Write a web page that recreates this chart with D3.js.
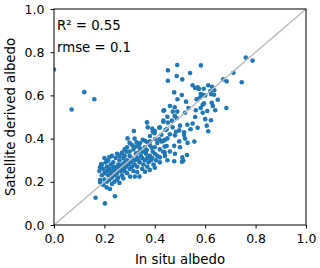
<!DOCTYPE html>
<html>
<head>
<meta charset="utf-8">
<script src="https://cdn.jsdelivr.net/npm/d3@7"></script>
<style>
  body { margin: 0; background: #fff; }
  text { font-family: "DejaVu Sans", sans-serif; fill: #000; }
</style>
</head>
<body>
<svg id="chart"></svg>
<script>
// tick values for both axes
const xTicks = [0, 0.2, 0.4, 0.6, 0.8, 1.0];
const yTicks = [0, 0.2, 0.4, 0.6, 0.8, 1.0];

// fit statistics shown top-left
const statLines = ['R\u00b2 = 0.55', 'rmse = 0.1'];

// [in situ albedo, satellite derived albedo]
const albedoPairs = [
  // outliers on the left
  [0.00, 0.72], [0.07, 0.535], [0.12, 0.615], [0.16, 0.582],
  [0.165, 0.126], [0.202, 0.10], [0.242, 0.133],
  // upper tail
  [0.761, 0.775], [0.788, 0.761], [0.712, 0.705], [0.671, 0.674], [0.685, 0.665], [0.745, 0.661],
  [0.489, 0.741], [0.583, 0.739], [0.452, 0.716], [0.54, 0.704], [0.487, 0.69], [0.509, 0.674], [0.452, 0.668],
  [0.55, 0.647], [0.56, 0.634], [0.57, 0.637], [0.575, 0.63], [0.477, 0.614], [0.507, 0.602],
  [0.612, 0.647], [0.627, 0.64], [0.594, 0.631], [0.636, 0.624], [0.582, 0.606], [0.59, 0.603], [0.635, 0.603], [0.623, 0.606],
  [0.49, 0.582], [0.524, 0.571], [0.566, 0.582], [0.595, 0.563], [0.59, 0.557], [0.626, 0.566], [0.63, 0.551],
  [0.46, 0.551], [0.479, 0.545], [0.489, 0.525], [0.471, 0.525], [0.437, 0.531],
  [0.534, 0.542], [0.563, 0.531], [0.582, 0.542], [0.59, 0.52], [0.608, 0.528], [0.64, 0.531], [0.684, 0.542],
  [0.479, 0.505], [0.487, 0.494], [0.468, 0.483], [0.434, 0.483], [0.452, 0.474],
  [0.623, 0.485], [0.606, 0.46], [0.529, 0.464], [0.542, 0.443], [0.497, 0.438], [0.484, 0.432], [0.516, 0.429], [0.612, 0.434],
  [0.42, 0.452], [0.447, 0.444], [0.471, 0.452],
  [0.426, 0.418], [0.44, 0.394], [0.45, 0.401], [0.427, 0.386], [0.48, 0.415], [0.516, 0.417], [0.497, 0.387],
  [0.477, 0.367], [0.447, 0.366], [0.557, 0.386], [0.439, 0.337], [0.42, 0.313], [0.42, 0.29], [0.477, 0.295],
  [0.509, 0.313], [0.513, 0.298], [0.508, 0.293], [0.528, 0.324],
  [0.55, 0.47], [0.57, 0.45], [0.56, 0.50], [0.60, 0.49], [0.52, 0.52], [0.58, 0.59], [0.60, 0.60], [0.65, 0.58], [0.62, 0.62],
  // middle
  [0.317, 0.435], [0.369, 0.475], [0.372, 0.452], [0.39, 0.446], [0.40, 0.435], [0.418, 0.45], [0.434, 0.478],
  [0.442, 0.44], [0.434, 0.529], [0.45, 0.501], [0.381, 0.412], [0.399, 0.425], [0.392, 0.432],
  [0.418, 0.397], [0.434, 0.39], [0.439, 0.363],
  [0.361, 0.39], [0.37, 0.383], [0.341, 0.378], [0.335, 0.367], [0.324, 0.363], [0.315, 0.35], [0.341, 0.355],
  [0.352, 0.339], [0.328, 0.332], [0.368, 0.347], [0.388, 0.358], [0.392, 0.339], [0.269, 0.332], [0.288, 0.339], [0.434, 0.339],
  [0.292, 0.401], [0.328, 0.383], [0.352, 0.394], [0.381, 0.387], [0.401, 0.398],
  [0.28, 0.35], [0.30, 0.34], [0.31, 0.37], [0.29, 0.36], [0.34, 0.34], [0.36, 0.36], [0.38, 0.37], [0.40, 0.36],
  [0.41, 0.38], [0.42, 0.35], [0.30, 0.38], [0.32, 0.40], [0.26, 0.32], [0.28, 0.32], [0.33, 0.31], [0.36, 0.34],
  [0.44, 0.32], [0.46, 0.34], [0.45, 0.30], [0.48, 0.33], [0.50, 0.36], [0.53, 0.38], [0.52, 0.40], [0.46, 0.42], [0.50, 0.46],
  // dense cluster
  [0.18, 0.25], [0.185, 0.27], [0.19, 0.23], [0.19, 0.28], [0.195, 0.26], [0.20, 0.24], [0.20, 0.21], [0.205, 0.29], [0.21, 0.25], [0.21, 0.27],
  [0.215, 0.23], [0.215, 0.30], [0.22, 0.26], [0.22, 0.21], [0.225, 0.28], [0.225, 0.24], [0.23, 0.25], [0.23, 0.22], [0.235, 0.27], [0.235, 0.29],
  [0.24, 0.26], [0.24, 0.23], [0.245, 0.25], [0.245, 0.31], [0.25, 0.27], [0.25, 0.24], [0.255, 0.28], [0.255, 0.22], [0.26, 0.26], [0.26, 0.30],
  [0.265, 0.25], [0.265, 0.27], [0.27, 0.28], [0.27, 0.23], [0.275, 0.26], [0.275, 0.31], [0.28, 0.29], [0.28, 0.25], [0.285, 0.27], [0.29, 0.30],
  [0.29, 0.24], [0.295, 0.28], [0.30, 0.26], [0.30, 0.32], [0.305, 0.29], [0.31, 0.27], [0.31, 0.31], [0.315, 0.25], [0.32, 0.30], [0.32, 0.28],
  [0.325, 0.33], [0.33, 0.27], [0.335, 0.30], [0.34, 0.29], [0.345, 0.32], [0.35, 0.31], [0.355, 0.28], [0.36, 0.30], [0.365, 0.33], [0.37, 0.31],
  [0.375, 0.29], [0.38, 0.32], [0.385, 0.30], [0.39, 0.31], [0.395, 0.28], [0.40, 0.33], [0.405, 0.30], [0.41, 0.32],
  [0.275, 0.216], [0.302, 0.224], [0.321, 0.224], [0.339, 0.224], [0.361, 0.247], [0.35, 0.26], [0.33, 0.245], [0.37, 0.27], [0.38, 0.255], [0.40, 0.265],
  [0.183, 0.208], [0.196, 0.185], [0.209, 0.174], [0.222, 0.167], [0.183, 0.198], [0.23, 0.19], [0.21, 0.20], [0.24, 0.20], [0.25, 0.21], [0.26, 0.195],
  [0.187, 0.282], [0.213, 0.298], [0.183, 0.267], [0.20, 0.31], [0.23, 0.32], [0.25, 0.33], [0.22, 0.315], [0.27, 0.335]
];

class AlbedoScatter {

  constructor(_config, _data) {
    this.config = {
      parentElement: _config.parentElement,
      containerWidth: _config.containerWidth || 320,
      containerHeight: _config.containerHeight || 268,
      margin: { top: 9, bottom: 43, right: 14, left: 54 }
    }
    this.data = _data;
    this.initVis();
  }

  initVis() {
    let vis = this;

    vis.width = vis.config.containerWidth - vis.config.margin.left - vis.config.margin.right;
    vis.height = vis.config.containerHeight - vis.config.margin.top - vis.config.margin.bottom;

    vis.svg = d3.select(vis.config.parentElement)
      .attr('width', vis.config.containerWidth)
      .attr('height', vis.config.containerHeight);

    vis.chart = vis.svg.append('g')
      .attr('transform', `translate(${vis.config.margin.left},${vis.config.margin.top})`);

    // scales
    vis.xScale = d3.scaleLinear().domain([0, 1]).range([0, vis.width]);
    vis.yScale = d3.scaleLinear().domain([0, 1]).range([vis.height, 0]);

    // clip so markers on the edge get cut like in matplotlib
    vis.svg.append('defs').append('clipPath')
      .attr('id', 'plot-clip')
      .append('rect')
        .attr('width', vis.width)
        .attr('height', vis.height);

    // points
    vis.chart.append('g')
      .attr('clip-path', 'url(#plot-clip)')
      .selectAll('circle')
      .data(vis.data)
      .enter()
      .append('circle')
        .attr('cx', d => vis.xScale(d[0]))
        .attr('cy', d => vis.yScale(d[1]))
        .attr('r', 2.3)
        .attr('fill', '#1f77b4');

    // 1:1 line on top of the points
    vis.chart.append('line')
      .attr('x1', vis.xScale(0))
      .attr('y1', vis.yScale(0))
      .attr('x2', vis.xScale(1))
      .attr('y2', vis.yScale(1))
      .attr('stroke', '#bdbdbd')
      .attr('stroke-width', 1.6);

    // axes
    vis.xAxis = d3.axisBottom(vis.xScale)
      .tickValues(xTicks)
      .tickFormat(d3.format('.1f'))
      .tickSize(3.5)
      .tickPadding(6)
      .tickSizeOuter(0);
    vis.yAxis = d3.axisLeft(vis.yScale)
      .tickValues(yTicks)
      .tickFormat(d3.format('.1f'))
      .tickSize(3.5)
      .tickPadding(6)
      .tickSizeOuter(0);

    vis.xAxisGroup = vis.chart.append('g')
      .attr('transform', `translate(0, ${vis.height})`)
      .call(vis.xAxis);
    vis.yAxisGroup = vis.chart.append('g')
      .call(vis.yAxis);

    [vis.xAxisGroup, vis.yAxisGroup].forEach(g => {
      g.select('.domain').remove();
      g.selectAll('line').attr('stroke', '#000').attr('stroke-width', 1);
      g.selectAll('text')
        .attr('font-family', '"DejaVu Sans", sans-serif')
        .attr('font-size', 12.5)
        .attr('fill', '#000');
    });

    // frame
    vis.chart.append('rect')
      .attr('width', vis.width)
      .attr('height', vis.height)
      .attr('fill', 'none')
      .attr('stroke', '#000')
      .attr('stroke-width', 1);

    // stats
    vis.chart.selectAll('.stat')
      .data(statLines)
      .enter()
      .append('text')
        .attr('class', 'stat')
        .attr('x', 3)
        .attr('y', (d, i) => 21 + i * 22)
        .attr('font-size', 13.3)
        .text(d => d);

    // axis titles
    vis.chart.append('text')
      .attr('x', vis.width / 2)
      .attr('y', vis.height + 39)
      .attr('text-anchor', 'middle')
      .attr('font-size', 13.3)
      .text('In situ albedo');

    vis.chart.append('text')
      .attr('transform', `translate(${-39}, ${vis.height / 2}) rotate(-90)`)
      .attr('text-anchor', 'middle')
      .attr('font-size', 13.3)
      .text('Satellite derived albedo');
  }
}

new AlbedoScatter({ parentElement: '#chart' }, albedoPairs);
</script>
</body>
</html>
